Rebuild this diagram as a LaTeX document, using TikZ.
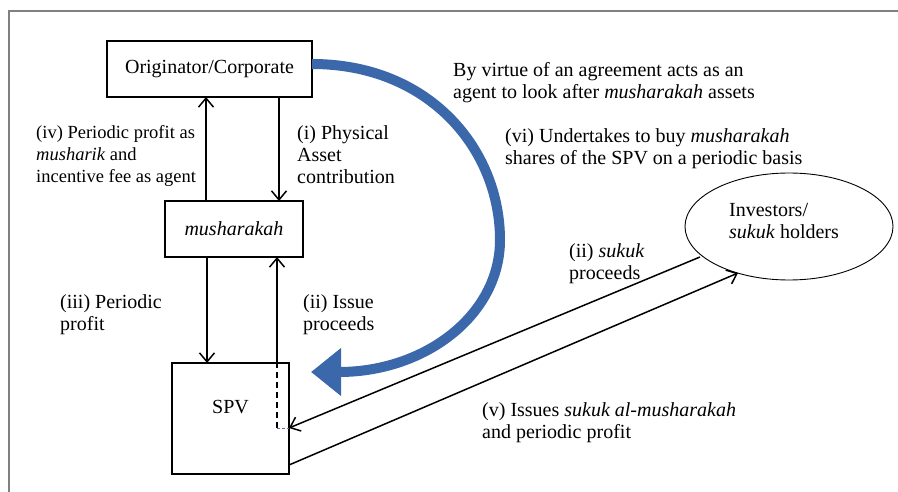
\documentclass[tikz,border=0pt]{standalone}
\usepackage{fontspec}
\setmainfont{Liberation Serif}
\usetikzlibrary{arrows.meta,shapes.geometric}
\definecolor{frameGray}{RGB}{128,128,128}
\definecolor{curveBlue}{RGB}{58,104,170}
\definecolor{dashPurple}{RGB}{110,100,170}
\tikzset{
  lbl/.style={anchor=north west, inner sep=0pt, align=left, font=\fontsize{20}{22}\selectfont},
  boxnode/.style={draw, line width=1.8pt, inner sep=0pt},
  flow/.style={line width=1.5pt, -{Straight Barb[length=9pt,width=15pt,line width=1.5pt]}},
  plain/.style={line width=1.5pt}
}
\begin{document}
\begin{tikzpicture}[x=1pt,y=-1pt]
\useasboundingbox (0,0) rectangle (898,492);
\draw[frameGray, line width=2pt] (9,492) -- (9,11) -- (898,11);

% boxes
\node[boxnode, minimum width=205pt, minimum height=56pt, font=\fontsize{20}{22}\selectfont] (orig) at (209.5,69) {Originator/Corporate};
\node[boxnode, minimum width=138pt, minimum height=56pt, font=\fontsize{20}{22}\selectfont\itshape] (mush) at (234,229) {musharakah};
\node[boxnode, minimum width=117pt, minimum height=111pt] (spv) at (230.5,418.5) {};
\node[font=\fontsize{20}{22}\selectfont, inner sep=0pt] (spvtext) at (230.5,407) {SPV};
\node[draw, ellipse, line width=0.9pt, minimum width=208pt, minimum height=107pt, inner sep=0pt] (inv) at (789,226.5) {};

% coordinates
\coordinate (ivA) at (206,201);
\coordinate (ivB) at (206,97);
\coordinate (iA) at (279,97);
\coordinate (iB) at (279,201);
\coordinate (iiiA) at (207,257);
\coordinate (iiiB) at (207,363);
\coordinate (iiD) at (277,428);
\coordinate (iiT) at (277,363);
\coordinate (iiB) at (277,257);
\coordinate (spvE) at (289,428);
\coordinate (sukA) at (700,257);
\coordinate (vA) at (289,465);
\coordinate (vB) at (738,273);
\coordinate (cStart) at (312,64);
\coordinate (cMid) at (500,240);
\coordinate (cEnd) at (311,372);

% vertical flows
\draw[flow] (ivA) -- (ivB);
\draw[flow] (iA) -- (iB);
\draw[flow] (iiiA) -- (iiiB);
\draw[plain, dashed, dash pattern=on 6pt off 4pt] (iiD) -- (iiT);
\draw[dashPurple, line width=0.8pt, dashed, dash pattern=on 3pt off 2pt] (iiD) -- (spvE);
\draw[flow] (iiT) -- (iiB);

% diagonal flows
\draw[flow] (sukA) -- (spvE);
\draw[flow] (vA) -- (vB);

% blue curved arrow
\draw[curveBlue, line width=10pt, -{Triangle[length=30pt,width=46pt]}]
  (cStart) .. controls (430,64) and (500,150) .. (cMid)
  .. controls (500,315) and (425,372) .. (cEnd);

% labels
\node[lbl] (tvirtue) at (453,62) {By virtue of an agreement acts as an\\agent to look after \textit{musharakah} assets};
\node[lbl] (tvi) at (505,128) {(vi) Undertakes to buy \textit{musharakah}\\shares of the SPV on a periodic basis};
\node[lbl, font=\fontsize{18.5}{22}\selectfont] (tiv) at (36,125) {(iv) Periodic profit as\\\textit{musharik} and\\incentive fee as agent};
\node[lbl] (ti) at (297,125) {(i) Physical\\Asset\\contribution};
\node[lbl] (tiii) at (60,294) {(iii) Periodic\\profit};
\node[lbl] (tiiissue) at (303,294) {(ii) Issue\\proceeds};
\node[lbl] (tiisukuk) at (569,243) {(ii) \textit{sukuk}\\proceeds};
\node[lbl] (tv) at (482,402) {(v) Issues \textit{sukuk al-musharakah}\\and periodic profit};
\node[lbl] (tinv) at (729,203) {Investors/\\\textit{sukuk} holders};
\end{tikzpicture}
\end{document}
